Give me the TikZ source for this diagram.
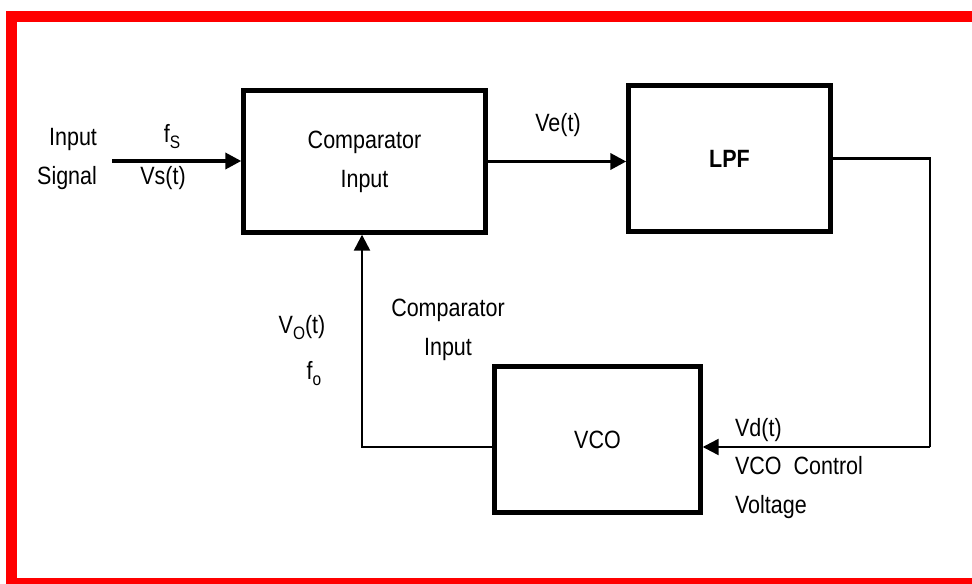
\documentclass[tikz,border=0pt]{standalone}
\usepackage{fontspec}
\setmainfont{Liberation Sans}[FakeStretch=0.86]
\usetikzlibrary{arrows.meta}

\begin{document}
\begin{tikzpicture}[x=0.5pt, y=0.5pt,
    every node/.style={font=\fontsize{12.5}{19.5}\selectfont},
    block/.style={draw, line width=2.2pt, inner sep=0pt},
    sig/.style={line width=1.8pt, -{Triangle[length=8pt,width=8pt]}},
    loop/.style={line width=1.2pt}]

        % Frame
        \useasboundingbox (0,0) rectangle (972,583);
        \draw[red, line width=5.5pt] (990,566.5) -- (11,566.5) -- (11,0) -- (990,0);

        % Blocks
        \node[block, minimum width=121pt, minimum height=71pt, align=center] (cmp) at (364.5,421.5) {Comparator\\Input};
        \node[block, minimum width=101pt, minimum height=73pt] (lpf) at (729.5,424.5) {\bfseries LPF};
        \node[block, minimum width=103pt, minimum height=73pt] (vco) at (597.5,143.5) {VCO};

        % Corners of the loop
        \coordinate (in) at (112,422);
        \coordinate (rc) at (930,136);
        \coordinate (lc) at (362,136);

        % Forward path
        \draw[sig] (in) -- (cmp.west |- in);
        \draw[sig] (cmp.east) -- (cmp.east -| lpf.west);

        % Feedback path
        \draw[loop] (lpf.east) -| (rc);
        \draw[loop, -{Triangle[length=8pt,width=8pt]}] (rc) -- (vco.east |- rc);
        \draw[loop, -{Triangle[length=8pt,width=8pt]}] (vco.west |- lc) -- (lc) -- (lc |- cmp.south);

        % Labels
        \node[anchor=east, align=right] (insig) at (104,424) {Input\\Signal};
        \node (fs) at (172,446) {f\raisebox{-0.45ex}{\small S}};
        \node (vs) at (163,405) {Vs(t)};
        \node (ve) at (558,458) {Ve(t)};
        \node (vo) at (302,255) {V\raisebox{-0.45ex}{\small O}(t)};
        \node (fo) at (314,209) {f\raisebox{-0.45ex}{\small o}};
        \node[align=center] (cmpin) at (448,253) {Comparator\\Input};
        \node[anchor=west] (vd) at (728,153) {Vd(t)};
        \node[anchor=west, align=left] (ctrl) at (728,95) {VCO\ \ Control\\Voltage};

    \end{tikzpicture}
\end{document}
